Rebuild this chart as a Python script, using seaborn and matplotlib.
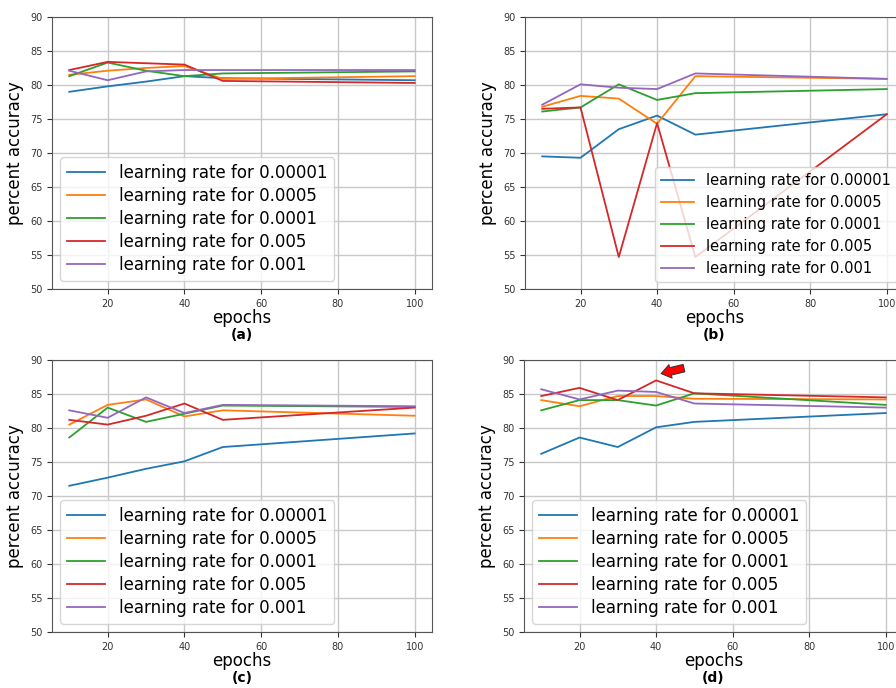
import numpy as np
import pandas as pd
import matplotlib
matplotlib.use("Agg")
import matplotlib.pyplot as plt
import seaborn as sns

epochs = [10, 20, 30, 40, 50, 100]
labels = ["learning rate for 0.00001", "learning rate for 0.0005",
          "learning rate for 0.0001", "learning rate for 0.005",
          "learning rate for 0.001"]
colors = ["#1f77b4", "#ff7f0e", "#2ca02c", "#d62728", "#9467bd"]

# panel (a)
a_lr00001 = [79.0, 79.8, 80.5, 81.3, 81.0, 80.7]
a_lr0005 = [81.5, 82.1, 82.5, 82.8, 80.9, 81.3]
a_lr0001 = [81.3, 83.3, 82.1, 81.3, 81.7, 82.0]
a_lr005 = [82.2, 83.4, 83.2, 83.0, 80.6, 80.3]
a_lr001 = [82.1, 80.7, 82.0, 82.2, 82.2, 82.2]

# panel (b)
b_lr00001 = [69.5, 69.3, 73.5, 75.5, 72.7, 75.7]
b_lr0005 = [76.8, 78.4, 78.0, 74.3, 81.3, 80.9]
b_lr0001 = [76.1, 76.7, 80.1, 77.8, 78.8, 79.4]
b_lr005 = [76.5, 76.7, 54.7, 74.4, 54.7, 75.7]
b_lr001 = [77.1, 80.1, 79.6, 79.4, 81.7, 80.9]

# panel (c)
c_lr00001 = [71.5, 72.7, 74.0, 75.1, 77.2, 79.2]
c_lr0005 = [80.5, 83.4, 84.2, 81.7, 82.6, 81.8]
c_lr0001 = [78.6, 83.0, 80.9, 82.1, 83.3, 83.1]
c_lr005 = [81.2, 80.5, 81.8, 83.6, 81.2, 83.0]
c_lr001 = [82.6, 81.5, 84.5, 82.2, 83.4, 83.2]

# panel (d)
d_lr00001 = [76.2, 78.6, 77.2, 80.1, 80.9, 82.2]
d_lr0005 = [84.1, 83.2, 84.7, 84.7, 84.3, 84.2]
d_lr0001 = [82.6, 84.1, 84.1, 83.3, 85.1, 83.4]
d_lr005 = [84.7, 85.9, 84.1, 87.0, 85.1, 84.5]
d_lr001 = [85.7, 84.2, 85.5, 85.3, 83.6, 83.0]

panels = {
    "(a)": [a_lr00001, a_lr0005, a_lr0001, a_lr005, a_lr001],
    "(b)": [b_lr00001, b_lr0005, b_lr0001, b_lr005, b_lr001],
    "(c)": [c_lr00001, c_lr0005, c_lr0001, c_lr005, c_lr001],
    "(d)": [d_lr00001, d_lr0005, d_lr0001, d_lr005, d_lr001],
}

W, H = 896, 688
boxes = {  # left, top, right, bottom in pixels
    "(a)": (52, 17, 432, 289),
    "(b)": (525, 17, 904, 289),
    "(c)": (52, 360, 432, 632),
    "(d)": (524, 360, 903, 632),
}

plt.rcParams["font.family"] = ["DejaVu Sans"]
fig = plt.figure(figsize=(W / 100, H / 100), dpi=100)

for name, series in panels.items():
    l, t, r, b = boxes[name]
    ax = fig.add_axes([l / W, 1 - b / H, (r - l) / W, (b - t) / H])
    rows = []
    for lab, vals in zip(labels, series):
        for e, v in zip(epochs, vals):
            rows.append({"epochs": e, "acc": v, "lr": lab})
    df = pd.DataFrame(rows)
    sns.lineplot(data=df, x="epochs", y="acc", hue="lr", hue_order=labels,
                 palette=colors, ax=ax, linewidth=1.3, sort=False,
                 estimator=None)
    ax.set_ylim(50, 90)
    ax.set_yticks(np.arange(50, 91, 5))
    ax.set_xticks([20, 40, 60, 80, 100])
    ax.grid(True, color="#c8c8c8", linewidth=1.0)
    ax.set_axisbelow(True)
    ax.tick_params(labelsize=7, colors="#333333")
    for s in ax.spines.values():
        s.set_color("#555555")
    ax.set_xlabel("epochs", fontsize=12, labelpad=0)
    ax.set_ylabel("percent accuracy", fontsize=12)
    if name == "(b)":
        ax.legend(loc="lower left", bbox_to_anchor=(0.343, 0.026),
                  borderaxespad=0, fontsize=10.5, handlelength=2.3,
                  labelspacing=0.48, borderpad=0.4)
    else:
        ax.legend(loc="lower left", fontsize=12, handlelength=2.3,
                  labelspacing=0.3, borderpad=0.4)
    ax.text(0.5, -0.17, name, transform=ax.transAxes, ha="center",
            va="center", fontsize=10, fontweight="bold")
    if name == "(d)":
        ax.annotate("", xy=(40.6, 87.9), xytext=(48.0, 88.9),
                    arrowprops=dict(arrowstyle="simple,head_width=1.0,head_length=0.7,tail_width=0.55",
                                    fc="red", ec="#333333", lw=0.7))

fig.savefig("out.png", dpi=100)
